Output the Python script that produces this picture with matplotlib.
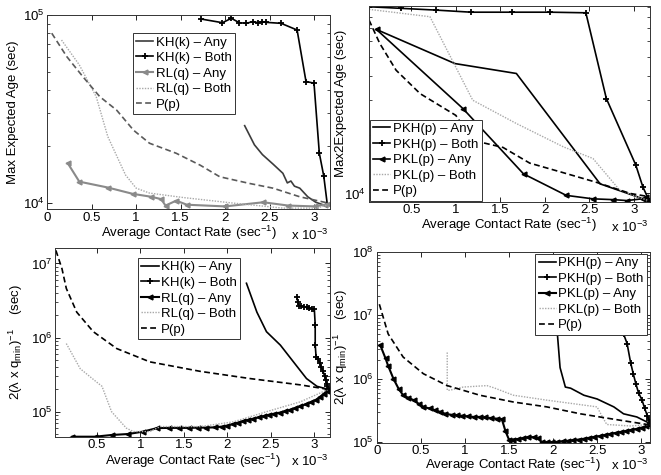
import matplotlib
matplotlib.use("Agg")
import matplotlib.pyplot as plt
from matplotlib.ticker import LogLocator, NullFormatter, FixedLocator

plt.rcParams['font.family'] = ['Liberation Sans', 'DejaVu Sans']
plt.rcParams['mathtext.fontset'] = 'custom'
plt.rcParams['mathtext.rm'] = 'Liberation Sans'
plt.rcParams['mathtext.it'] = 'Liberation Sans:italic'
plt.rcParams['mathtext.default'] = 'regular'
plt.rcParams['font.size'] = 9.5

# x values are contact rates in units of 1e-3 sec^-1

# ---- top left: Max Expected Age ----
kh_any_x = [2.22, 2.33, 2.42, 2.54, 2.65, 2.70, 2.74, 2.78, 2.84, 2.93, 3.02, 3.10, 3.15]
kh_any_y = [25800, 20400, 18100, 16100, 14400, 12800, 13100, 12300, 12000, 10800, 10100, 9800, 9630]
kh_both_x = [1.73, 1.97, 2.07, 2.16, 2.24, 2.31, 2.37, 2.42, 2.46, 2.63, 2.81, 2.91, 3.00, 3.06, 3.11, 3.15]
kh_both_y = [95200, 91000, 96000, 91000, 90300, 92200, 91000, 92200, 91400, 90300, 83200, 44300, 43400,
             18400, 13900, 9800]
rl_any_x = [0.23, 0.36, 0.68, 0.96, 1.17, 1.28, 1.33, 1.45, 1.57, 2.00, 2.43, 2.71, 3.01, 3.12, 3.16]
rl_any_y = [16300, 13000, 12100, 11200, 10800, 10500, 9700, 10300, 9800, 9600, 10100, 9700, 9600, 9800, 9900]
rl_both_x = [0.16, 0.36, 0.55, 0.68, 0.88, 1.00, 1.15, 1.53, 2.09, 2.65, 3.03, 3.16]
rl_both_y = [73600, 54300, 36800, 22600, 14100, 12000, 11300, 10700, 10000, 9400, 9400, 9800]
p1_x = [0.05, 0.22, 0.40, 0.59, 0.78, 0.97, 1.15, 1.45, 1.72, 1.94, 2.28, 2.54, 2.84, 3.16]
p1_y = [80000, 60000, 47000, 36800, 31200, 24400, 20800, 18400, 15900, 13800, 12700, 12000, 10800, 10000]

# ---- top right: Max2 Expected Age ----
pkh_any_x = [0.11, 0.99, 1.68, 2.62, 3.16]
pkh_any_y = [69000, 46200, 41100, 11200, 9200]
pkh_both_x = [0.026, 0.39, 0.78, 1.17, 1.63, 2.06, 2.46, 2.69, 3.02, 3.10, 3.16]
pkh_both_y = [90200, 88500, 86700, 84600, 84600, 84600, 84000, 30600, 14000, 10800, 9420]
pkl_any_x = [0.11, 1.08, 1.76, 2.24, 2.54, 2.77, 2.92, 3.10, 3.14, 3.16]
pkl_any_y = [69000, 27200, 12600, 9780, 9390, 9300, 9200, 9400, 9600, 9300]
pkl_both_x = [0.026, 0.71, 1.19, 1.68, 2.21, 2.54, 2.84, 3.16]
pkl_both_y = [87500, 80200, 30000, 22800, 17300, 15100, 10400, 9200]
p2_x = [0.026, 0.146, 0.33, 0.60, 1.00, 1.19, 1.53, 1.83, 2.20, 2.58, 2.96, 3.16]
p2_y = [77100, 58600, 42700, 32400, 25100, 18700, 17200, 14300, 12800, 11400, 10000, 9650]

# ---- bottom left: 2(lambda x q_min)^-1 ----
kh_any3_x = [2.22, 2.34, 2.45, 2.61, 2.76, 2.91, 3.03, 3.16]
kh_any3_y = [5.4e6, 2.2e6, 1.2e6, 7.9e5, 4.7e5, 2.8e5, 2.2e5, 2.0e5]
kh_both3_x = [2.80, 2.81, 2.82, 2.85, 2.88, 2.91, 2.94, 2.97, 3.00, 3.01, 3.01, 3.02, 3.04, 3.06,
              3.08, 3.10, 3.12, 3.13, 3.14, 3.15, 3.16]
kh_both3_y = [3.5e6, 3.0e6, 2.7e6, 2.65e6, 2.6e6, 2.55e6, 2.5e6, 2.45e6, 2.4e6, 1.5e6, 8e5, 5.5e5,
              5.2e5, 4.6e5, 4.0e5, 3.5e5, 3.0e5, 2.7e5, 2.4e5, 2.2e5, 2.0e5]
rl_any3_x = [0.22, 0.48, 0.67, 0.86, 1.03, 1.19, 1.33, 1.45, 1.56, 1.66, 1.76, 1.86, 1.94, 2.00, 2.06,
             2.12, 2.18, 2.24, 2.30, 2.36, 2.42, 2.48, 2.54, 2.60, 2.66, 2.72, 2.78, 2.84, 2.90, 2.96,
             3.02, 3.07, 3.11, 3.14, 3.16]
rl_any3_y = [46000, 46000, 48500, 50000, 53800, 60000, 60500, 60500, 60500, 61000, 61000, 61500, 63000,
             65000, 68000, 71000, 74500, 77500, 80500, 84000, 87000, 91000, 94000, 97000, 101000,
             106000, 112000, 118000, 126000, 134000, 145000, 160000, 175000, 188000, 200000]
rl_both3_x = [0.15, 0.31, 0.50, 0.56, 0.67, 0.84, 0.92, 1.11, 1.23, 1.69, 2.07, 2.45, 2.84, 3.16]
rl_both3_y = [8.3e5, 3.8e5, 2.5e5, 2.2e5, 1.0e5, 6.0e4, 5.4e4, 5.4e4, 6.3e4, 6.3e4, 7.3e4, 1.0e5,
              1.36e5, 2.0e5]
p3_x = [0.03, 0.10, 0.15, 0.27, 0.46, 0.73, 1.11, 1.69, 2.26, 2.84, 3.16]
p3_y = [1.5e7, 8.5e6, 4.6e6, 2.2e6, 1.2e6, 7.1e5, 4.7e5, 3.5e5, 2.8e5, 2.3e5, 2.0e5]

# ---- bottom right ----
pkh_any4_x = [2.03, 2.05, 2.08, 2.14, 2.20, 2.35, 2.50, 2.69, 2.80, 2.95, 3.09]
pkh_any4_y = [6e7, 5e6, 1.5e6, 7.4e5, 7.1e5, 5.5e5, 4.8e5, 3.6e5, 2.8e5, 2.5e5, 2.0e5]
pkh_both4_x = [2.70, 2.75, 2.80, 2.84, 2.88, 2.91, 2.94, 2.97, 3.01, 3.04, 3.07, 3.09, 3.10]
pkh_both4_y = [2e7, 1e7, 5.1e6, 3.6e6, 1.8e6, 1.2e6, 8.3e5, 6e5, 4.6e5, 3.4e5, 2.6e5, 2.2e5, 1.9e5]
pkl_any4_x = [0.04, 0.10, 0.13, 0.19, 0.25, 0.30, 0.36, 0.42, 0.48, 0.53, 0.60, 0.66, 0.72, 0.78, 0.85,
              0.91, 0.97, 1.04, 1.10, 1.17, 1.23, 1.30, 1.36, 1.42, 1.46, 1.50, 1.55, 1.60, 1.66, 1.72,
              1.78, 1.83, 1.87, 1.93, 1.99, 2.05, 2.11, 2.17, 2.23, 2.29, 2.35, 2.41, 2.47, 2.53, 2.59,
              2.65, 2.71, 2.77, 2.83, 2.89, 2.95, 3.01, 3.06, 3.10]
pkl_any4_y = [3.4e6, 2.1e6, 1.6e6, 1.0e6, 6.9e5, 5.5e5, 5.0e5, 4.6e5, 4.0e5, 3.6e5, 3.4e5, 3.2e5, 3.0e5,
              2.8e5, 2.7e5, 2.65e5, 2.6e5, 2.55e5, 2.5e5, 2.5e5, 2.45e5, 2.4e5, 2.35e5, 2.3e5, 1.5e5,
              1.1e5, 1.1e5, 1.12e5, 1.15e5, 1.2e5, 1.2e5, 1.15e5, 1.0e5, 1.0e5, 1.0e5, 1.01e5, 1.03e5,
              1.05e5, 1.07e5, 1.1e5, 1.13e5, 1.17e5, 1.21e5, 1.25e5, 1.3e5, 1.35e5, 1.4e5, 1.45e5,
              1.5e5, 1.56e5, 1.62e5, 1.7e5, 1.78e5, 1.85e5]
pkl_both4_x = [0.80, 0.80, 0.83, 0.98, 1.25, 1.33, 1.55, 1.93, 2.50, 2.56, 2.61, 2.88, 3.09]
pkl_both4_y = [2.6e6, 6.6e5, 6.6e5, 7.4e5, 7.8e5, 7.2e5, 5.5e5, 4.6e5, 3.6e5, 2.5e5, 1.9e5, 1.8e5, 1.9e5]
p4_x = [0.03, 0.13, 0.30, 0.53, 0.80, 1.17, 1.55, 1.93, 2.31, 2.69, 3.07, 3.10]
p4_y = [1.5e7, 5.1e6, 2.2e6, 1.2e6, 7.8e5, 5.5e5, 4.3e5, 3.6e5, 2.8e5, 2.3e5, 1.9e5, 1.9e5]

xticks = [0, 0.5, 1, 1.5, 2, 2.5, 3]

W, H = 661, 475
fig = plt.figure(figsize=(W / 100, H / 100), dpi=100)


def make_ax(left, right, top, bottom):
    return fig.add_axes([left / W, 1 - bottom / H, (right - left) / W, (bottom - top) / H])


def style(ax, xlim, ylim, ylabel, ylabelpad, xlabelpad, offset_y, tickpad=2):
    ax.set_yscale('log')
    ax.set_xlim(*xlim)
    ax.set_ylim(*ylim)
    ax.xaxis.set_major_locator(FixedLocator(xticks))
    ax.set_xticklabels(['0', '0.5', '1', '1.5', '2', '2.5', '3'])
    ax.yaxis.set_major_locator(LogLocator(base=10, numticks=10))
    ax.yaxis.set_minor_locator(LogLocator(base=10, subs=range(2, 10), numticks=10))
    ax.yaxis.set_minor_formatter(NullFormatter())
    ax.tick_params(which='both', direction='in', top=True, right=True, labelsize=9.5)
    ax.tick_params(which='major', length=3.5, width=0.6, pad=2)
    ax.tick_params(axis='x', which='major', pad=tickpad)
    ax.tick_params(which='minor', length=2, width=0.5)
    for s in ax.spines.values():
        s.set_linewidth(0.7)
        s.set_color('#333333')
    ax.set_xlabel('Average Contact Rate (sec$^{-1}$)', labelpad=xlabelpad)
    ax.set_ylabel(ylabel, labelpad=ylabelpad)
    ax.text(0.995, offset_y, 'x 10$^{-3}$', transform=ax.transAxes, ha='right', va='center')


def legend(ax, loc, anchor):
    leg = ax.legend(loc=loc, bbox_to_anchor=anchor, fancybox=False, framealpha=1, edgecolor='#333333',
                    fontsize=9.5, handlelength=1.3, handletextpad=0.2, labelspacing=0.25,
                    borderpad=0.25, borderaxespad=0)
    leg.get_frame().set_linewidth(0.7)


dash = (0, (3.5, 2))
dot = (0, (1, 1))
lw = 1.2

# top left
ax1 = make_ax(47.3, 330, 15, 209)
ax1.plot(kh_any_x, kh_any_y, color='#3c3c3c', lw=lw, label='KH(k) \u2013 Any')
ax1.plot(kh_both_x, kh_both_y, color='black', lw=lw, marker='+', ms=4, mew=1.3, label='KH(k) \u2013 Both')
ax1.plot(rl_any_x, rl_any_y, color='#8a8a8a', lw=1.5, marker='<', ms=3.5, label='RL(q) \u2013 Any')
ax1.plot(rl_both_x, rl_both_y, color='#a8a8a8', lw=1.0, ls=dot, label='RL(q) \u2013 Both')
ax1.plot(p1_x, p1_y, color='#5a5a5a', lw=lw, ls=dash, label='P(p)')
style(ax1, (0, 3.18), (9300, 1e5), 'Max Expected Age (sec)', 3, 0, -0.135)
legend(ax1, 'upper left', (0.303, 0.907))

# top right
ax2 = make_ax(368.5, 650, 6, 201.5)
ax2.plot(pkh_any_x, pkh_any_y, color='black', lw=lw, label='PKH(p) \u2013 Any')
ax2.plot(pkh_both_x, pkh_both_y, color='black', lw=lw, marker='+', ms=4, mew=1.3, label='PKH(p) \u2013 Both')
ax2.plot(pkl_any_x, pkl_any_y, color='black', lw=lw, marker='<', ms=3.5, label='PKL(p) \u2013 Any')
ax2.plot(pkl_both_x, pkl_both_y, color='#a8a8a8', lw=1.0, ls=dot, label='PKL(p) \u2013 Both')
ax2.plot(p2_x, p2_y, color='black', lw=lw, ls=dash, label='P(p)')
style(ax2, (0.02, 3.18), (9100, 91000), 'Max2Expected Age (sec)', -2, 0, -0.135)
legend(ax2, 'lower left', (0.005, 0.005))

# bottom left
ylab = '2(\u03bb x q$_{min}$)$^{-1}$    (sec)'
ax3 = make_ax(55, 330, 248.3, 436.7)
ax3.plot(kh_any3_x, kh_any3_y, color='black', lw=lw, label='KH(k) \u2013 Any')
ax3.plot(kh_both3_x, kh_both3_y, color='black', lw=lw, marker='+', ms=4, mew=1.3, label='KH(k) \u2013 Both')
ax3.plot(rl_any3_x, rl_any3_y, color='black', lw=1.5, marker='<', ms=3.5, label='RL(q) \u2013 Any')
ax3.plot(rl_both3_x, rl_both3_y, color='#a8a8a8', lw=1.0, ls=dot, label='RL(q) \u2013 Both')
ax3.plot(p3_x, p3_y, color='black', lw=lw, ls=dash, label='P(p)')
style(ax3, (0.02, 3.18), (46000, 1.6e7), ylab, 4, 0, -0.13)
legend(ax3, 'upper left', (0.302, 0.949))

# bottom right
ax4 = make_ax(376.7, 650, 252, 443)
ax4.plot(pkh_any4_x, pkh_any4_y, color='black', lw=lw, label='PKH(p) \u2013 Any')
ax4.plot(pkh_both4_x, pkh_both4_y, color='black', lw=lw, marker='+', ms=4, mew=1.3, label='PKH(p) \u2013 Both')
ax4.plot(pkl_any4_x, pkl_any4_y, color='black', lw=1.5, marker='<', ms=3.5, label='PKL(p) \u2013 Any')
ax4.plot(pkl_both4_x, pkl_both4_y, color='#a8a8a8', lw=1.0, ls=dot, label='PKL(p) \u2013 Both')
ax4.plot(p4_x, p4_y, color='black', lw=lw, ls=dash, label='P(p)')
style(ax4, (0, 3.1), (9.7e4, 1e8), ylab, 2, -1, -0.115, tickpad=1.5)
legend(ax4, 'upper right', (0.989, 0.991))

fig.savefig('out.png', dpi=100)
